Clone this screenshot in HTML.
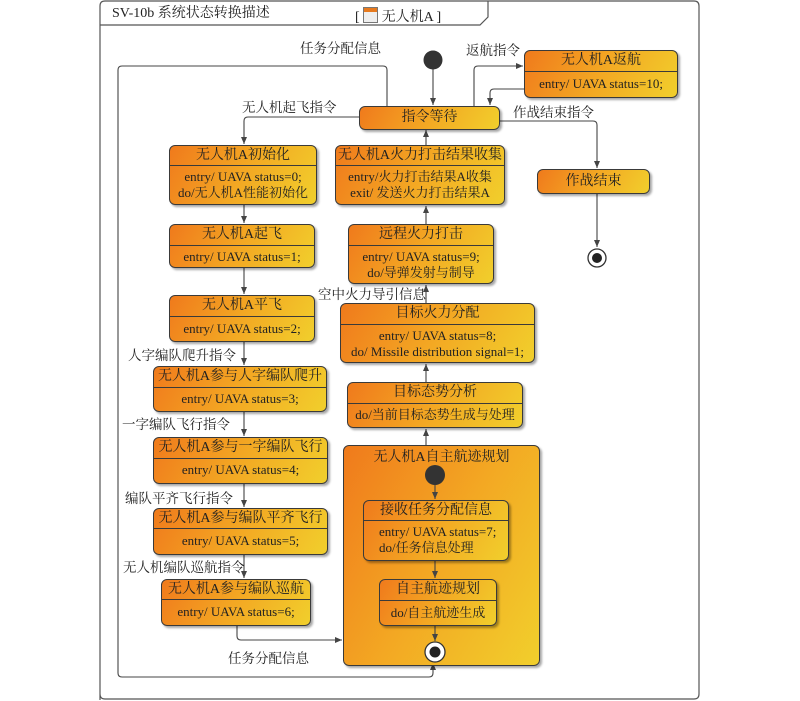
<!DOCTYPE html>
<html><head><meta charset="utf-8"><style>
body{margin:0;width:800px;height:701px;background:#fff;position:relative;overflow:hidden;font-family:"Liberation Serif","Noto Serif CJK SC",serif;color:#222}
.b{position:absolute;border:1.3px solid #3a3a3a;border-radius:6px;background:linear-gradient(120deg,#f07a1c 0%,#f3a823 50%,#f1cf2c 100%);box-shadow:2px 2px 2px rgba(0,0,0,.35);box-sizing:border-box;font-size:13px;text-align:center;line-height:16px}
.h{border-bottom:1px solid #3a3a3a;box-sizing:border-box;font-size:14px}
.l{position:absolute;font-size:13.5px;white-space:nowrap;line-height:14px}
svg{position:absolute;left:0;top:0}
</style></head><body>
<svg width="800" height="701">
<defs><marker id="a" markerWidth="8" markerHeight="8" refX="7" refY="4" orient="auto" markerUnits="userSpaceOnUse"><path d="M0,1 L7,4 L0,7 Z" fill="#444"/></marker></defs>
<path d="M100,700 L100,6 Q100,1 105,1 L694,1 Q699,1 699,6 L699,694 Q699,699 694,699 L105,699 Q100,699 100,694" fill="none" stroke="#555" stroke-width="1.2"/>
<path d="M100,25 L480,25 L488,17 L488,1" fill="none" stroke="#555" stroke-width="1.2"/>
<g fill="none" stroke="#444" stroke-width="1.1">
<path d="M433,69 L433,105" marker-end="url(#a)"/>
<path d="M387,106 L387,70 Q387,66 383,66 L122,66 Q118,66 118,70 L118,673 Q118,677 122,677 L429,677 Q433,677 433,673 L433,663" marker-end="url(#a)"/>
<path d="M474,106 L474,70 Q474,66 478,66 L523,66" marker-end="url(#a)"/>
<path d="M524,89 L494,89 Q490,89 490,93 L490,105" marker-end="url(#a)"/>
<path d="M500,121 L593,121 Q597,121 597,125 L597,168" marker-end="url(#a)"/>
<path d="M597,193 L597,247" marker-end="url(#a)"/>
<path d="M359,117 L248,117 Q244,117 244,121 L244,144" marker-end="url(#a)"/>
<path d="M244,205 L244,223" marker-end="url(#a)"/>
<path d="M244,268 L244,294" marker-end="url(#a)"/>
<path d="M244,342 L244,365" marker-end="url(#a)"/>
<path d="M244,412 L244,436" marker-end="url(#a)"/>
<path d="M244,484 L244,507" marker-end="url(#a)"/>
<path d="M244,555 L244,578" marker-end="url(#a)"/>
<path d="M237,626 L237,636 Q237,640 241,640 L342,640" marker-end="url(#a)"/>
<path d="M426,445 L426,429" marker-end="url(#a)"/>
<path d="M426,382 L426,364" marker-end="url(#a)"/>
<path d="M426,303 L426,285" marker-end="url(#a)"/>
<path d="M426,224 L426,206" marker-end="url(#a)"/>
<path d="M426,145 L426,130" marker-end="url(#a)"/>
</g>
<circle cx="433" cy="60" r="9.5" fill="#333"/>
<circle cx="597" cy="258" r="9" fill="#fff" stroke="#333" stroke-width="1.3"/><circle cx="597" cy="258" r="5" fill="#222"/>
</svg>
<div class="l" style="left:112px;top:7px;font-size:14px">SV-10b 系统状态转换描述</div>
<div class="l" style="left:355px;top:7px;font-size:14px">[ <span style="display:inline-block;width:13px;height:14px;border:1px solid #777;background:#eee;vertical-align:-2px;position:relative"><span style="position:absolute;left:0;top:0;width:13px;height:4px;background:#e77a1e"></span></span> 无人机A ]</div>
<div class="l" style="left:300px;top:42px">任务分配信息</div>
<div class="l" style="left:466px;top:44px">返航指令</div>
<div class="l" style="left:242px;top:101px">无人机起飞指令</div>
<div class="l" style="left:513px;top:106px">作战结束指令</div>
<div class="l" style="left:128px;top:349px">人字编队爬升指令</div>
<div class="l" style="left:122px;top:418px">一字编队飞行指令</div>
<div class="l" style="left:125px;top:492px">编队平齐飞行指令</div>
<div class="l" style="left:123px;top:561px">无人机编队巡航指令</div>
<div class="l" style="left:228px;top:652px">任务分配信息</div>
<div class="l" style="left:318px;top:288px">空中火力导引信息</div>

<div class="b" style="left:524px;top:50px;width:154px;height:48px"><div class="h" style="height:21px;line-height:20px">无人机A返航</div><div style="padding-top:4px">entry/ UAVA status=10;</div></div>
<div class="b" style="left:359px;top:106px;width:141px;height:24px;line-height:22px;font-size:14px">指令等待</div>
<div class="b" style="left:537px;top:169px;width:113px;height:25px;line-height:23px;font-size:14px">作战结束</div>

<div class="b" style="left:169px;top:145px;width:148px;height:60px"><div class="h" style="height:20px;line-height:19px">无人机A初始化</div><div style="padding-top:3px">entry/ UAVA status=0;<br>do/无人机A性能初始化</div></div>
<div class="b" style="left:335px;top:145px;width:170px;height:60px"><div class="h" style="height:20px;line-height:19px">无人机A火力打击结果收集</div><div style="padding-top:3px">entry/火力打击结果A收集<br>exit/ 发送火力打击结果A</div></div>

<div class="b" style="left:169px;top:224px;width:146px;height:44px"><div class="h" style="height:21px;line-height:20px">无人机A起飞</div><div style="padding-top:3px">entry/ UAVA status=1;</div></div>
<div class="b" style="left:169px;top:295px;width:146px;height:47px"><div class="h" style="height:21px;line-height:20px">无人机A平飞</div><div style="padding-top:4px">entry/ UAVA status=2;</div></div>
<div class="b" style="left:153px;top:366px;width:174px;height:46px"><div class="h" style="height:21px;line-height:20px">无人机A参与人字编队爬升</div><div style="padding-top:3px">entry/ UAVA status=3;</div></div>
<div class="b" style="left:153px;top:437px;width:175px;height:47px"><div class="h" style="height:21px;line-height:20px">无人机A参与一字编队飞行</div><div style="padding-top:3px">entry/ UAVA status=4;</div></div>
<div class="b" style="left:153px;top:508px;width:175px;height:47px"><div class="h" style="height:20px;line-height:19px">无人机A参与编队平齐飞行</div><div style="padding-top:4px">entry/ UAVA status=5;</div></div>
<div class="b" style="left:161px;top:579px;width:150px;height:47px"><div class="h" style="height:20px;line-height:19px">无人机A参与编队巡航</div><div style="padding-top:4px">entry/ UAVA status=6;</div></div>

<div class="b" style="left:348px;top:224px;width:146px;height:60px"><div class="h" style="height:21px;line-height:20px">远程火力打击</div><div style="padding-top:3px">entry/ UAVA status=9;<br>do/导弹发射与制导</div></div>
<div class="b" style="left:340px;top:303px;width:195px;height:60px"><div class="h" style="height:21px;line-height:20px">目标火力分配</div><div style="padding-top:3px">entry/ UAVA status=8;<br>do/ Missile distribution signal=1;</div></div>
<div class="b" style="left:347px;top:382px;width:176px;height:46px"><div class="h" style="height:21px;line-height:20px">目标态势分析</div><div style="padding-top:3px">do/当前目标态势生成与处理</div></div>

<div class="b" style="left:343px;top:445px;width:197px;height:221px;text-align:center"><div style="padding-top:4px;font-size:14px">无人机A自主航迹规划</div></div>
<svg width="800" height="701" style="pointer-events:none">
<g fill="none" stroke="#444" stroke-width="1.1">
<path d="M435,485 L435,499" marker-end="url(#a)"/>
<path d="M435,561 L435,578" marker-end="url(#a)"/>
<path d="M435,626 L435,641" marker-end="url(#a)"/>
</g>
<circle cx="435" cy="475" r="10" fill="#333"/>
<circle cx="435" cy="652" r="10" fill="#fff" stroke="#333" stroke-width="1.3"/><circle cx="435" cy="652" r="5.5" fill="#222"/>
</svg>
<div class="b" style="left:363px;top:500px;width:146px;height:61px;text-align:left"><div class="h" style="height:20px;line-height:19px;text-align:center">接收任务分配信息</div><div style="padding:3px 0 0 15px">entry/ UAVA status=7;<br>do/任务信息处理</div></div>
<div class="b" style="left:379px;top:579px;width:118px;height:47px"><div class="h" style="height:21px;line-height:20px">自主航迹规划</div><div style="padding-top:4px">do/自主航迹生成</div></div>
</body></html>
